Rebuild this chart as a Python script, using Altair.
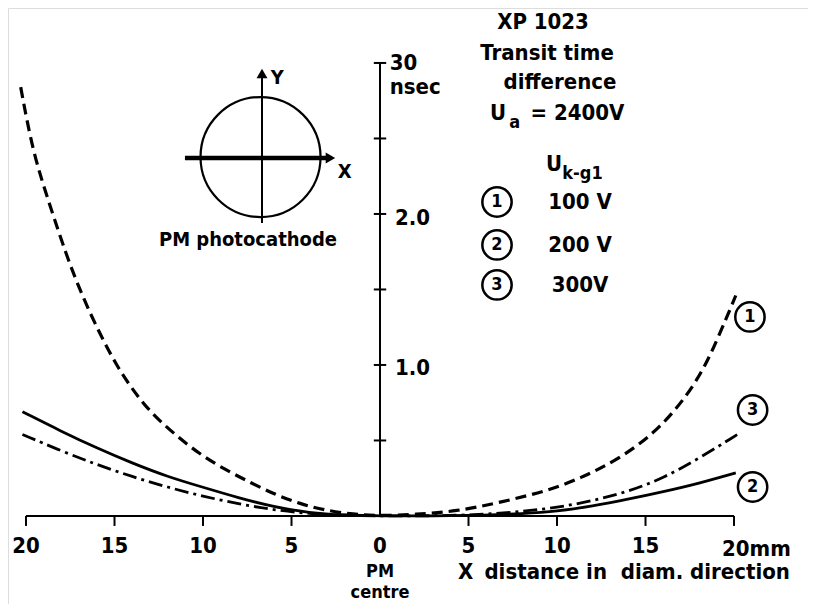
import altair as alt
import pandas as pd

# ---------------- data ----------------
# curve 1 (U k-g1 = 100 V), dashed
c1_x = [-20.3, -19.6, -18.6, -17.7, -16.8, -15.8, -14.9, -14.0, -13.0, -11.6, -10.2, -8.8, -7.3, -5.9, -4.5, -3.2, -1.5, 0.0, 2.0, 4.3, 6.8, 9.6, 11.5, 13.4, 15.8, 17.9, 19.0, 20.1]
c1_y = [2.84, 2.40, 2.04, 1.72, 1.45, 1.20, 1.00, 0.84, 0.69, 0.54, 0.41, 0.31, 0.22, 0.14, 0.08, 0.04, 0.01, 0.0, 0.01, 0.03, 0.09, 0.17, 0.26, 0.37, 0.57, 0.88, 1.15, 1.46]
# curve 2 (200 V), solid
c2_x = [-20.2, -18.0, -16.0, -14.0, -12.0, -10.0, -8.0, -6.0, -4.0, -2.0, 0.0, 3.0, 6.0, 8.0, 10.0, 12.0, 14.0, 16.0, 18.0, 20.1]
c2_y = [0.69, 0.56, 0.45, 0.35, 0.26, 0.19, 0.12, 0.06, 0.02, 0.005, 0.0, 0.0, 0.005, 0.015, 0.03, 0.065, 0.11, 0.16, 0.215, 0.285]
# curve 3 (300 V), dash-dot
c3_x = [-20.2, -18.0, -16.0, -14.0, -12.0, -10.0, -8.0, -6.0, -4.0, -2.0, 0.0, 3.0, 6.0, 8.0, 10.0, 12.0, 14.0, 16.0, 18.0, 20.2]
c3_y = [0.54, 0.43, 0.34, 0.26, 0.19, 0.13, 0.08, 0.04, 0.015, 0.005, 0.0, 0.0, 0.01, 0.03, 0.055, 0.10, 0.16, 0.25, 0.38, 0.54]

x_ticks = [-20, -15, -10, -5, 0, 5, 10, 15, 20]
x_tick_labels = ["20", "15", "10", "5", "0", "5", "10", "15", "20mm"]
y_ticks = [0.5, 1.0, 1.5, 2.0, 2.5, 3.0]
y_tick_labels = ["30", "nsec", "2.0", "1.0"]
legend_nums = ["1", "2", "3"]
legend_volts = ["100 V", "200 V", "300V"]
title_lines = ["XP 1023", "Transit time", "difference"]

FONT = '"DejaVu Sans Condensed", "DejaVu Sans", sans-serif'
FS = 22

XS = alt.Scale(domain=[-21.017, 24.18], nice=False, zero=False)
YS = alt.Scale(domain=[-0.583, 3.364], nice=False, zero=False)
X = alt.X("x:Q", scale=XS, axis=None)
Y = alt.Y("y:Q", scale=YS, axis=None)
X2 = alt.X2("x2:Q")
Y2 = alt.Y2("y2:Q")


def curve(xs, ys, dash, width):
    df = pd.DataFrame({"x": xs, "y": ys, "o": range(len(xs))})
    kw = dict(color="black", strokeWidth=width, interpolate="basis")
    if dash:
        kw["strokeDash"] = dash
    return alt.Chart(df).mark_line(**kw).encode(x=X, y=Y, order="o:Q")


def texts(df, size=FS, align="center", field="t"):
    return alt.Chart(df).mark_text(font=FONT, fontSize=size, fontWeight="bold", align=align,
                                   baseline="middle", color="black").encode(x=X, y=Y, text=f"{field}:N")


l1 = curve(c1_x, c1_y, [11, 6], 3.2)
l2 = curve(c2_x, c2_y, None, 2.8)
l3 = curve(c3_x, c3_y, [14, 5, 3, 5], 2.8)

# axes
axes_df = pd.DataFrame({"x": [-20, 0], "x2": [20, 0], "y": [0, 0], "y2": [0, 3.0]})
axes = alt.Chart(axes_df).mark_rule(color="black", strokeWidth=2).encode(x=X, x2=X2, y=Y, y2=Y2)

xt_df = pd.DataFrame({"x": [t for t in x_ticks if t != 0]})
xt_df["y"] = 0.0
xt_df["y2"] = -0.066
xticks = alt.Chart(xt_df).mark_rule(color="black", strokeWidth=2).encode(x=X, y=Y, y2=Y2)

yt_df = pd.DataFrame({"y": y_ticks})
yt_df["x"] = -0.35
yt_df["x2"] = 0.35
yticks = alt.Chart(yt_df).mark_rule(color="black", strokeWidth=2).encode(x=X, x2=X2, y=Y)

xl_df = pd.DataFrame({"x": x_ticks[:-1], "t": x_tick_labels[:-1]})
xl_df["y"] = -0.2
xlabels = texts(xl_df)
xl_last = texts(pd.DataFrame({"x": [19.32], "y": [-0.22], "t": [x_tick_labels[-1]]}), align="left")

yl_df = pd.DataFrame({"x": [0.55, 0.55, 0.85, 0.85], "y": [3.0, 2.84, 1.97, 0.98], "t": y_tick_labels})
ylabels = texts(yl_df, align="left")

bottom = texts(pd.DataFrame({"x": [0.0, 0.0], "y": [-0.37, -0.51], "t": ["PM", "centre"]}), size=18)
xtitle = texts(pd.DataFrame({"x": [4.4, 5.9, 13.6], "y": [-0.37] * 3,
                             "t": ["X", "distance in", "diam. direction"]}), align="left")

# title block
title = texts(pd.DataFrame({"x": [9.21, 9.44, 10.17], "y": [3.272, 3.066, 2.874], "t": title_lines}))
ua = texts(pd.DataFrame({"x": [6.21, 8.5], "y": [2.669, 2.669], "t": ["U", "= 2400V"]}), align="left")
subs = texts(pd.DataFrame({"x": [7.3, 10.3], "y": [2.60, 2.262], "t": ["a", "k-g1"]}), size=18, align="left")
uk = texts(pd.DataFrame({"x": [9.38], "y": [2.33], "t": ["U"]}), align="left")

# legend
lg_df = pd.DataFrame({"x": [6.61] * 3, "y": [2.079, 1.795, 1.530], "n": legend_nums, "v": legend_volts})
lg_df["xv"] = 11.3
lg_circ = alt.Chart(lg_df).mark_point(shape="circle", filled=False, color="black", strokeWidth=2.5,
                                      size=860, opacity=1).encode(x=X, y=Y)
lg_num = texts(lg_df, size=18, field="n")
lg_txt = alt.Chart(lg_df).mark_text(font=FONT, fontSize=FS, fontWeight="bold", align="center",
                                    baseline="middle").encode(x=alt.X("xv:Q", scale=XS, axis=None), y=Y, text="v:N")

# curve end labels
cl_df = pd.DataFrame({"x": [20.9, 21.05, 21.05], "y": [1.318, 0.192, 0.702], "n": legend_nums})
cl_circ = alt.Chart(cl_df).mark_point(shape="circle", filled=False, color="black", strokeWidth=2.5,
                                      size=860, opacity=1).encode(x=X, y=Y)
cl_num = texts(cl_df, size=18, field="n")

# inset diagram
inset_circle = alt.Chart(pd.DataFrame({"x": [-6.75], "y": [2.377]})).mark_point(
    shape="circle", filled=False, color="black", strokeWidth=2.2, size=14400, opacity=1).encode(x=X, y=Y)
harrow = alt.Chart(pd.DataFrame({"x": [-11.02], "x2": [-3.0], "y": [2.371]})).mark_rule(
    color="black", strokeWidth=4.5).encode(x=X, x2=X2, y=Y)
vline = alt.Chart(pd.DataFrame({"x": [-6.667], "y": [1.94], "y2": [2.93]})).mark_rule(
    color="black", strokeWidth=2).encode(x=X, y=Y, y2=Y2)
heads_df = pd.DataFrame({"x": [-2.8, -6.667], "y": [2.371, 2.93], "s": ["triangle-right", "triangle-up"]})
heads = alt.Chart(heads_df).mark_point(filled=True, color="black", size=120, opacity=1).encode(
    x=X, y=Y, shape=alt.Shape("s:N", scale=None))
inset_txt = texts(pd.DataFrame({"x": [-5.8, -2.0], "y": [2.90, 2.278], "t": ["Y", "X"]}), size=20)
inset_lbl = texts(pd.DataFrame({"x": [-7.46], "y": [1.828], "t": ["PM photocathode"]}), size=20)

chart = alt.layer(
    axes, xticks, yticks, l1, l2, l3, xlabels, xl_last, ylabels, bottom, xtitle,
    title, ua, subs, uk, lg_circ, lg_num, lg_txt, cl_circ, cl_num,
    inset_circle, harrow, vline, heads, inset_txt, inset_lbl,
).properties(width=800, height=596, padding=0, autosize=alt.AutoSizeParams(type="none")
).configure_view(stroke=None).configure(background="white")

chart.save("out.html", embed_options={"renderer": "svg", "actions": False})
